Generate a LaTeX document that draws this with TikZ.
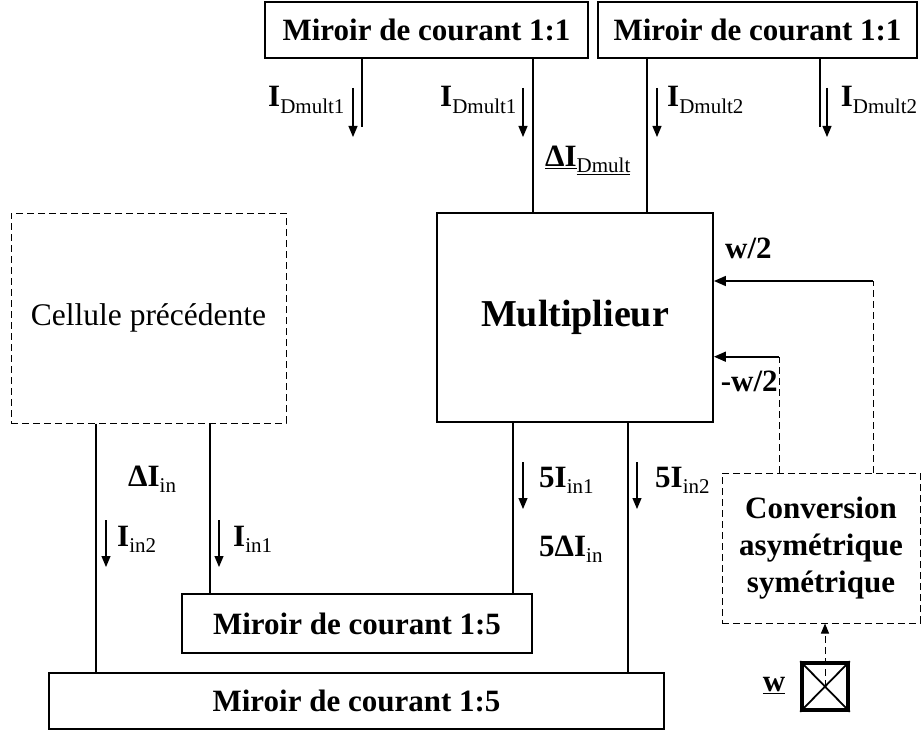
\documentclass[tikz,border=0pt]{standalone}
\usepackage{fontspec}
\setmainfont{Liberation Serif}
\usetikzlibrary{arrows.meta}
\newcommand\subs[1]{\raisebox{-6pt}{\fontsize{21}{21}\selectfont\mdseries #1}}
\begin{document}
\begin{tikzpicture}[x=1pt,y=-1pt,
  box/.style={draw, line width=1.9pt, inner sep=0pt, font=\bfseries\fontsize{31}{36}\selectfont},
  dbox/.style={draw, line width=1pt, dash pattern=on 7pt off 4pt, inner sep=0pt},
  wire/.style={line width=1.9pt},
  dwire/.style={line width=1pt, dash pattern=on 7pt off 4pt},
  cur/.style={line width=1.1pt, -{Triangle[length=11pt,width=9pt]}},
  warr/.style={line width=1.7pt, -{Triangle[length=12pt,width=10pt]}},
  lbl/.style={font=\bfseries\fontsize{31}{36}\selectfont, inner sep=0pt, anchor=base west}]
\useasboundingbox (0,0) rectangle (921,733);

% blocks
\node[box, minimum width=323pt, minimum height=56pt] (mA) at (426.5,30) {Miroir de courant 1:1};
\node[box, minimum width=319pt, minimum height=56pt] (mB) at (757.5,30) {Miroir de courant 1:1};
\node[box, minimum width=276pt, minimum height=209pt, font=\bfseries\fontsize{38}{44}\selectfont] (mult) at (575,317.5) {Multiplieur};
\node[dbox, minimum width=275pt, minimum height=210pt, font=\fontsize{31.5}{36}\selectfont] (cell) at (148.5,318) {Cellule précédente};
\node[box, minimum width=350pt, minimum height=59pt] (m5a) at (357,623.5) {Miroir de courant 1:5};
\node[box, minimum width=615pt, minimum height=56pt] (m5b) at (356.5,701) {Miroir de courant 1:5};
\node[dbox, minimum width=198pt, minimum height=150pt, align=center, font=\bfseries\fontsize{31}{37}\selectfont] (conv) at (821,548) {Conversion\\asymétrique\\symétrique};
\node[draw, line width=3.6pt, minimum width=46pt, minimum height=47pt, inner sep=0pt] (wb) at (825,686.5) {};
\draw[line width=1.8pt] (wb.north west) -- (wb.south east);
\draw[line width=1.8pt] (wb.north east) -- (wb.south west);

% wires
\coordinate (e1) at (361.7,127);
\coordinate (e2) at (820,127);
\coordinate (xa) at (532.7,0);
\coordinate (xb) at (647,0);
\coordinate (xc) at (96,0);
\coordinate (xd) at (210,0);
\coordinate (xe) at (513,0);
\coordinate (xf) at (627.7,0);
\draw[wire] (e1 |- mA.south) -- (e1);
\draw[wire] (e2 |- mB.south) -- (e2);
\draw[wire] (xa |- mA.south) -- (xa |- mult.north);
\draw[wire] (xb |- mB.south) -- (xb |- mult.north);
\draw[wire] (xc |- cell.south) -- (xc |- m5b.north);
\draw[wire] (xd |- cell.south) -- (xd |- m5a.north);
\draw[wire] (xe |- mult.south) -- (xe |- m5a.north);
\draw[wire] (xf |- mult.south) -- (xf |- m5b.north);

% w/2 feeds
\coordinate (c1) at (873,281);
\coordinate (c2) at (779,356.7);
\draw[dwire] (c1 |- conv.north) -- (c1);
\draw[dwire] (c2 |- conv.north) -- (c2);
\draw[warr] (c1) -- (c1 -| mult.east);
\draw[warr] (c2) -- (c2 -| mult.east);
\draw[dwire, -{Triangle[length=10pt,width=8pt]}] (wb.center) -- (wb.center |- conv.south);

% current arrows
\foreach \x in {353,523,657,827} \draw[cur] (\x,88) -- (\x,137);
\foreach \x in {106,219} \draw[cur] (\x,520) -- (\x,567);
\foreach \x in {523,637} \draw[cur] (\x,462) -- (\x,509);

% labels
\node[lbl] (l1) at (268,107) {I\subs{Dmult1}};
\node[lbl] (l2) at (440,107) {I\subs{Dmult1}};
\node[lbl] (l3) at (667,107) {I\subs{Dmult2}};
\node[lbl] (l4) at (840.7,107) {I\subs{Dmult2}};
\node[lbl] (l5) at (545,166.7) {\underline{ΔI}\subs{\underline{Dmult}}};
\node[lbl] (l6) at (128,486.7) {ΔI\subs{in}};
\node[lbl] (l7) at (117,546.7) {I\subs{in2}};
\node[lbl] (l8) at (233,546.7) {I\subs{in1}};
\node[lbl] (l9) at (539,487) {5I\subs{in1}};
\node[lbl] (l10) at (655,487) {5I\subs{in2}};
\node[lbl] (l11) at (539,556.7) {5ΔI\subs{in}};
\node[lbl] (l12) at (725,258) {w/2};
\node[lbl] (l13) at (720.7,391.7) {-w/2};
\node[lbl] (l14) at (762.7,691.7) {\underline{w}};
\end{tikzpicture}
\end{document}
